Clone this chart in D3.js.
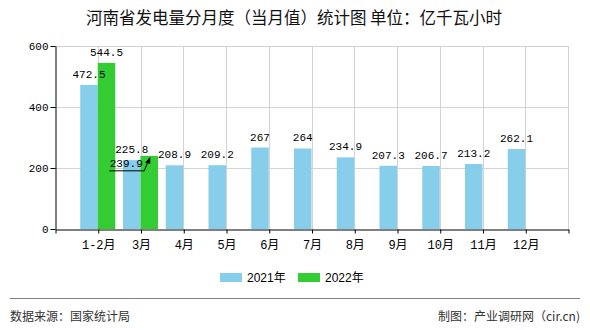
<!DOCTYPE html>
<html><head><meta charset="utf-8">
<script src="https://cdn.jsdelivr.net/npm/d3@7"></script>
<style>
body{margin:0;background:#fff;}
svg{display:block;}
</style></head>
<body>
<svg id="c" width="590" height="330"></svg>
<script>
const categories = ["1-2月","3月","4月","5月","6月","7月","8月","9月","10月","11月","12月"];
const series = ["2021年","2022年"];
const values2021 = [472.5,225.8,208.9,209.2,267,264,234.9,207.3,206.7,213.2,262.1];
const values2022 = [544.5,239.9,null,null,null,null,null,null,null,null,null];
const yTicks = [0,200,400,600];
const colors = ["#87CEEB","#33CC33"];

const svg = d3.select("#c");
const L = 55, R = 568, T = 46, B = 229;
const x = d3.scaleLinear().domain([0, categories.length + 1]).range([L, R]);
const y = d3.scaleLinear().domain([0, 600]).range([B, T]);
const sub = d3.scaleBand().domain(series).range([-17.5, 17.5]).padding(0);

const monoFont = "'Liberation Mono','DejaVu Sans Mono','Noto Sans CJK SC',monospace";
const cjk = "'Noto Sans CJK SC','Liberation Sans',sans-serif";

// title
svg.append("text").attr("x", 294).attr("y", 24).attr("text-anchor","middle")
  .attr("font-family", cjk).attr("font-size", 16.5).attr("fill","#111")
  .text("河南省发电量分月度（当月值）统计图 单位：亿千瓦小时");

// grid
const g = svg.append("g");
g.selectAll("line.hg").data(yTicks.filter(d=>d>0)).join("line")
  .attr("x1", L).attr("x2", R).attr("y1", d=>Math.round(y(d))+0.5).attr("y2", d=>Math.round(y(d))+0.5)
  .attr("stroke","#d3d3d3").attr("stroke-width",1);
const vlines = categories.map((c,i)=>i+1).concat([categories.length+1]);
g.selectAll("line.vg").data(vlines).join("line")
  .attr("x1", d=>Math.round(x(d))+0.5).attr("x2", d=>Math.round(x(d))+0.5).attr("y1", T).attr("y2", B)
  .attr("stroke","#d3d3d3").attr("stroke-width",1);

// bars
const allSeries = [values2021, values2022];
allSeries.forEach((vals, si) => {
  const data = vals.map((v,i)=>({v,i})).filter(d=>d.v!=null);
  svg.append("g").selectAll("rect").data(data).join("rect")
    .attr("x", d => x(d.i+1) + sub(series[si]))
    .attr("width", sub.bandwidth())
    .attr("y", d => y(d.v))
    .attr("height", d => y(0) - y(d.v))
    .attr("fill", colors[si]);
});

// value labels
const labelG = svg.append("g").attr("font-family", monoFont).attr("font-size", 11).attr("fill","#000");
allSeries.forEach((vals, si) => {
  vals.forEach((v,i) => {
    if (v == null) return;
    const cx = x(i+1) + sub(series[si]) + sub.bandwidth()/2;
    const top = y(v);
    if (si === 1 && i === 1) {
      // displaced label with leader arrow
      labelG.append("text").attr("x", cx - 23).attr("y", top + 11).attr("text-anchor","middle").text(String(v));
      labelG.append("path")
        .attr("d", `M${cx-40},${top+15}H${cx-5}L${cx-1},${top+5}`)
        .attr("fill","none").attr("stroke","#000").attr("stroke-width",1);
      labelG.append("path")
        .attr("d", `M${cx+1},${top+1}L${cx-4},${top+7}L${cx+1},${top+8}Z`)
        .attr("fill","#000");
    } else {
      labelG.append("text").attr("x", cx).attr("y", top - 7).attr("text-anchor","middle").text(String(v));
    }
  });
});

// axes
const yAxis = d3.axisLeft(y).tickValues(yTicks).tickSize(5).tickSizeOuter(0);
const ya = svg.append("g").attr("transform", `translate(${L+0.5},0)`).call(yAxis);
ya.select(".domain").attr("stroke","#000");
ya.selectAll(".tick line").attr("stroke","#000");
ya.selectAll(".tick text").attr("font-family", monoFont).attr("font-size", 11).attr("fill","#000").attr("x",-7);

const xAxis = d3.axisBottom(x).tickValues(d3.range(0, categories.length+2)).tickSize(4).tickSizeOuter(0)
  .tickFormat(d => (d>=1 && d<=categories.length) ? categories[d-1] : "");
const xa = svg.append("g").attr("transform", `translate(0.5,${B+0.5})`).call(xAxis);
xa.select(".domain").attr("stroke","#000");
xa.selectAll(".tick line").attr("stroke","#000");
xa.selectAll(".tick text").attr("font-family", monoFont).attr("font-size", 12).attr("fill","#000").attr("dy","1.0em");

// legend
const lg = svg.append("g");
const legX = [220, 298];
series.forEach((s,i)=>{
  lg.append("rect").attr("x", legX[i]).attr("y", 273).attr("width", 22).attr("height", 9).attr("fill", colors[i]);
  lg.append("text").attr("x", legX[i]+27).attr("y", 282).attr("font-family","'Liberation Sans',Arial,'Noto Sans CJK SC',sans-serif")
    .attr("font-size", 12).attr("fill","#000").text(s);
});

// footer
svg.append("line").attr("x1",10).attr("x2",580).attr("y1",298.5).attr("y2",298.5).attr("stroke","#808080").attr("stroke-width",1.2);
svg.append("text").attr("x",10).attr("y",321).attr("font-family",cjk).attr("font-size",12).attr("fill","#333").text("数据来源：国家统计局");
svg.append("text").attr("x",580).attr("y",321).attr("text-anchor","end").attr("font-family",cjk).attr("font-size",12).attr("fill","#333").text("制图：产业调研网（cir.cn)");
</script>
</body></html>
